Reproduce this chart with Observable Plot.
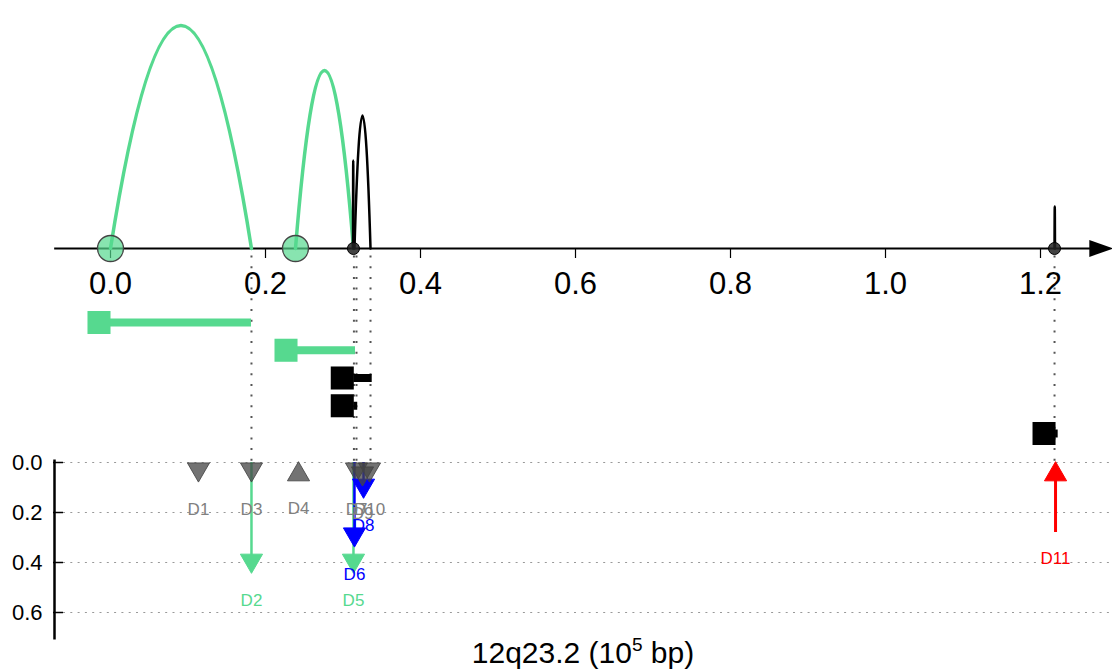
<!DOCTYPE html>
<html>
<head>
<meta charset="utf-8">
<script src="https://cdn.jsdelivr.net/npm/d3@7"></script>
<script src="https://cdn.jsdelivr.net/npm/@observablehq/plot@0.6"></script>
<style>
  html, body { margin: 0; padding: 0; background: #fff; }
  svg { display: block; }
</style>
</head>
<body>
<div id="chart"></div>
<script>
// ---------------- data ----------------
const xTicks = [0, 0.2, 0.4, 0.6, 0.8, 1.0, 1.2];
const yTicks = [0, 0.2, 0.4, 0.6];
const xTitle = "12q23.2 (10^5 bp)";

// top panel: rearrangement arcs (10^5 bp) and relative arc height
const arcStart  = [0.0000, 0.2387, 0.3148, 0.3129, 1.2181];
const arcEnd    = [0.1819, 0.3135, 0.3355, 0.3135, 1.2187];
const arcHeight = [0.892, 0.712, 0.532, 0.352, 0.168];
const arcClone  = ["A", "A", "B", "B", "B"];

// breakpoints drawn on the axis
const bpX     = [0.0000, 0.2387, 0.3135, 1.2181];
const bpClone = ["A", "A", "B", "B"];

// middle panel: segments (start, end)
const segStart = [0.0000, 0.2413, 0.3139, 0.3139, 1.2194];
const segEnd   = [0.1819, 0.3161, 0.3377, 0.3190, 1.2228];
const segClone = ["A", "A", "B", "B", "B"];

// dotted connectors from breakpoints to the events panel
const linkX = [0.1819, 0.3141, 0.3174, 0.3355, 1.2181];

// bottom panel: events (VAF)
const evName  = ["D1", "D2", "D3", "D4", "D5", "D6", "D7", "D8", "D9", "D10", "D11"];
const evX     = [0.1135, 0.1819, 0.1819, 0.2426, 0.3135, 0.3148, 0.3174, 0.3265, 0.3252, 0.3342, 1.2194];
const evFrom  = [null, 0, null, null, 0, 0, null, 0, null, null, 0.28];
const evTo    = [0.04, 0.405, 0.04, 0.035, 0.405, 0.30, 0.04, 0.105, 0.056, 0.04, 0.035];
const evGroup = ["none", "A", "none", "none", "A", "blue", "none", "blue", "none", "none", "red"];
const evDir   = ["down", "down", "down", "up", "down", "down", "down", "down", "down", "down", "up"];

// ---------------- styling ----------------
const GREEN = "#56d98f";
const cloneColor = {A: GREEN, B: "#000"};
const evColor = {none: "#444", A: GREEN, blue: "#0000ff", red: "#ff0000"};
const evTextColor = {none: "#808080", A: GREEN, blue: "#0000ff", red: "#ff0000"};
const FONT = "Liberation Sans, Arial, Helvetica, sans-serif";

const W = 1112, H = 672;
const pxPerUnit = 775, x0px = 110, left = 53;
const xDomain = [(left - x0px) / pxPerUnit, (W - x0px) / pxPerUnit];
const yDomain = [-1.848, 0.84];     // y in VAF units, top -> bottom
const baseY = -0.856;               // genomic axis of the top panel
const axisEnd = 1.2645;
const rowY = i => -0.56 + i * 0.111;

// ---------------- derived tables ----------------
const arcs = arcStart.map((s, i) => ({id: i, s, e: arcEnd[i], h: arcHeight[i], clone: arcClone[i]}));
// quadratic Bezier: start, control, end (control at twice the apex height)
const arcPts = arcs.flatMap(a => [
  {id: a.id, clone: a.clone, x: a.s, y: baseY},
  {id: a.id, clone: a.clone, x: (a.s + a.e) / 2, y: baseY - 2 * a.h},
  {id: a.id, clone: a.clone, x: a.e, y: baseY}
]);
const bps = bpX.map((x, i) => ({x, clone: bpClone[i]}));
const segs = segStart.map((s, i) => ({s, e: segEnd[i], clone: segClone[i], row: i}));
const events = evName.map((name, i) => ({
  name, x: evX[i], from: evFrom[i], to: evTo[i], group: evGroup[i], dir: evDir[i]
}));

function quadCurve(context) {
  let pts = [];
  return {
    areaStart() {}, areaEnd() {},
    lineStart() { pts = []; },
    point(x, y) { pts.push([+x, +y]); },
    lineEnd() {
      if (pts.length < 3) return;
      const [a, b, c] = pts;
      context.moveTo(a[0], a[1]);
      context.quadraticCurveTo(b[0], b[1], c[0], c[1]);
    }
  };
}
const triDown = {draw(ctx, size) {
  const s = Math.sqrt(size / Math.PI) * 2.7, h = s * Math.sqrt(3) / 2;
  ctx.moveTo(-s / 2, -h / 2); ctx.lineTo(s / 2, -h / 2); ctx.lineTo(0, h / 2); ctx.closePath();
}};
const triUp = {draw(ctx, size) {
  const s = Math.sqrt(size / Math.PI) * 2.7, h = s * Math.sqrt(3) / 2;
  ctx.moveTo(-s / 2, h / 2); ctx.lineTo(s / 2, h / 2); ctx.lineTo(0, -h / 2); ctx.closePath();
}};
const arrowRight = {draw(ctx, size) {
  const r = Math.sqrt(size / Math.PI);
  ctx.moveTo(-r, -0.7 * r); ctx.lineTo(r, 0); ctx.lineTo(-r, 0.7 * r); ctx.closePath();
}};

const lineEvents = events.filter(d => d.from !== null);
// labels sit under the marker, or under the tail when the arrow points up
const underMarker = events.filter(d => !(d.from !== null && d.from > d.to));
const underTail = events.filter(d => d.from !== null && d.from > d.to);

const chart = Plot.plot({
  width: W, height: H,
  marginLeft: left, marginRight: 0, marginTop: 0, marginBottom: H - 248,
  style: {fontFamily: FONT, background: "#fff", overflow: "visible"},
  x: {domain: xDomain},
  y: {domain: yDomain, range: [0, H]},
  marks: [
    // bottom panel gridlines and y axis
    Plot.ruleY(yTicks, {stroke: "#999", strokeWidth: 1, strokeDasharray: "2,5.3", insetLeft: 10}),
    Plot.ruleY(yTicks, {stroke: "#000", strokeWidth: 1.5, insetRight: W - left - 10}),
    Plot.ruleX([xDomain[0]], {y1: -0.01, y2: 0.71, stroke: "#000", strokeWidth: 2.5, dx: 1}),
    Plot.axisY(yTicks, {anchor: "left", tickSize: 0, tickPadding: 11, tickFormat: d3.format(".1f"),
      fontSize: 22, label: null, fill: "#000"}),

    // dotted connectors
    Plot.ruleX(linkX, {y1: baseY + 0.03, y2: 0, stroke: "#555", strokeWidth: 2, strokeDasharray: "2,8.7"}),

    // top genomic axis with arrow
    Plot.ruleY([baseY], {x1: xDomain[0] + 0.0015, x2: axisEnd, stroke: "#000", strokeWidth: 2}),
    Plot.dot([axisEnd + 0.014], {x: d => d, y: baseY, symbol: arrowRight, r: 12, fill: "#000", stroke: null}),
    Plot.axisX(xTicks, {anchor: "bottom", tickSize: 10, tickPadding: 13, tickFormat: d3.format(".1f"),
      fontSize: 31, label: null, strokeWidth: 1.2}),

    // arcs
    Plot.line(arcPts.filter(d => d.clone === "A"), {x: "x", y: "y", z: "id", curve: quadCurve,
      stroke: GREEN, strokeWidth: 3.5}),
    Plot.line(arcPts.filter(d => d.clone === "B"), {x: "x", y: "y", z: "id", curve: quadCurve,
      stroke: "#000", strokeWidth: 2.5}),

    // breakpoint circles
    Plot.dot(bps.filter(d => d.clone === "A"), {x: "x", y: baseY, r: 13, fill: GREEN, fillOpacity: 0.7,
      stroke: "#444", strokeWidth: 1.3}),
    Plot.dot(bps.filter(d => d.clone === "B"), {x: "x", y: baseY, r: 6, fill: "#222", fillOpacity: 0.85,
      stroke: "#000", strokeWidth: 1}),

    // segments
    Plot.ruleY(segs, {x1: "s", x2: "e", y: d => rowY(d.row), stroke: d => cloneColor[d.clone], strokeWidth: 8}),
    Plot.dot(segs, {x: "s", y: d => rowY(d.row), symbol: "square", r: 13, dx: -11.5,
      fill: d => cloneColor[d.clone], stroke: null}),

    // events
    Plot.ruleX(lineEvents, {x: "x", y1: "from", y2: "to", stroke: d => evColor[d.group],
      strokeWidth: d => (d.group === "red" ? 3 : 2.5)}),
    Plot.dot(events.filter(d => d.dir === "down"), {x: "x", y: "to", symbol: triDown, r: 8.2,
      fill: d => evColor[d.group], fillOpacity: d => (d.group === "none" ? 0.75 : 1),
      stroke: d => evColor[d.group], strokeOpacity: d => (d.group === "none" ? 0.85 : 1), strokeWidth: 1}),
    Plot.dot(events.filter(d => d.dir === "up"), {x: "x", y: "to", symbol: triUp, r: 8.2,
      fill: d => evColor[d.group], fillOpacity: d => (d.group === "none" ? 0.75 : 1),
      stroke: d => evColor[d.group], strokeOpacity: d => (d.group === "none" ? 0.85 : 1), strokeWidth: 1}),
    Plot.text(underMarker, {x: "x", y: "to", dy: 37, text: "name", fontSize: 17,
      fill: d => evTextColor[d.group]}),
    Plot.text(underTail, {x: "x", y: "from", dy: 26, text: "name", fontSize: 17,
      fill: d => evTextColor[d.group]}),

    // x title
    Plot.text([xTitle], {y: 0.765, text: d => d, fontSize: 30, fill: "#000", frameAnchor: "middle"})
  ]
});

document.getElementById("chart").appendChild(chart);

// superscript in the x title
d3.select(chart).selectAll("text").each(function () {
  if (this.textContent === xTitle) {
    const t = d3.select(this);
    t.text(null);
    t.append("tspan").text("12q23.2 (10");
    t.append("tspan").attr("dy", -12).attr("font-size", 19).text("5");
    t.append("tspan").attr("dy", 12).text(" bp)");
  }
});
</script>
</body>
</html>
